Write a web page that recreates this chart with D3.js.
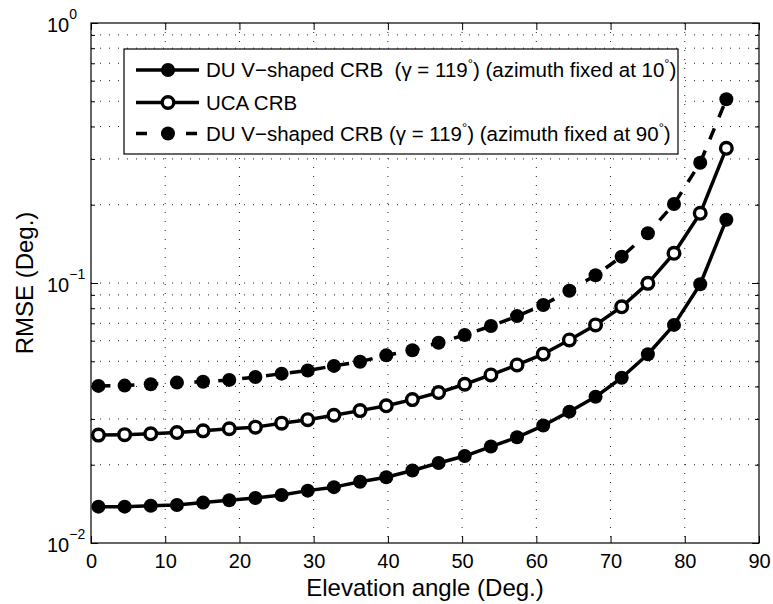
<!DOCTYPE html>
<html>
<head>
<meta charset="utf-8">
<script src="https://cdn.jsdelivr.net/npm/d3@7"></script>
<style>
  body { margin: 0; background: #fff; }
  svg { display: block; font-family: "Liberation Sans", Arial, sans-serif; }
</style>
</head>
<body>
<div id="chart"></div>
<script>
// ── Data ───────────────────────────────────────────────────────────────────
const elevation = [1.0, 4.53, 8.05, 11.58, 15.1, 18.63, 22.15, 25.68, 29.2, 32.73,
  36.25, 39.78, 43.3, 46.83, 50.35, 53.88, 57.4, 60.93, 64.45, 67.98,
  71.5, 75.03, 78.55, 82.08, 85.6];

const duV10 = [0.0138, 0.0138, 0.0139, 0.0140, 0.0143, 0.0146, 0.0149, 0.0153, 0.0159, 0.0164,
  0.0172, 0.0179, 0.0190, 0.0203, 0.0216, 0.0235, 0.0255, 0.0283, 0.0320, 0.0365,
  0.0432, 0.0532, 0.0690, 0.0989, 0.1752];

const ucaCrb = [0.0260, 0.0261, 0.0263, 0.0266, 0.0270, 0.0275, 0.0279, 0.0289, 0.0298, 0.0310,
  0.0323, 0.0337, 0.0356, 0.0379, 0.0408, 0.0443, 0.0484, 0.0533, 0.0604, 0.0690,
  0.0810, 0.0997, 0.1301, 0.1854, 0.3297];

const duV90 = [0.0402, 0.0403, 0.0408, 0.0414, 0.0417, 0.0424, 0.0435, 0.0448, 0.0461, 0.0480,
  0.0498, 0.0527, 0.0551, 0.0589, 0.0631, 0.0683, 0.0746, 0.0823, 0.0934, 0.1071,
  0.1263, 0.1553, 0.2012, 0.2902, 0.5087];

const xTicks    = [0, 10, 20, 30, 40, 50, 60, 70, 80, 90];
const yMajor    = [0.01, 0.1, 1];
const yExpLabel = ["\u22122", "\u22121", "0"];
const yMinor    = [0.02, 0.03, 0.04, 0.05, 0.06, 0.07, 0.08, 0.09,
                   0.2, 0.3, 0.4, 0.5, 0.6, 0.7, 0.8, 0.9];

const legendItems = [
  { pre: "DU V\u2212shaped CRB  (\u03b3 = 119", mid: ") (azimuth fixed at 10", marker: "filled", dash: false },
  { pre: "UCA CRB", mid: null, marker: "open", dash: false },
  { pre: "DU V\u2212shaped CRB (\u03b3 = 119", mid: ") (azimuth fixed at 90", marker: "filled", dash: true }
];

// ── Layout ─────────────────────────────────────────────────────────────────
const W = 773, H = 604;
const m = { left: 91, top: 23, right: 14, bottom: 61 };
const innerW = W - m.left - m.right;
const innerH = H - m.top - m.bottom;

const x = d3.scaleLinear().domain([0, 90]).range([0, innerW]);
const y = d3.scaleLog().domain([0.01, 1]).range([innerH, 0]);

const svg = d3.select("#chart").append("svg")
  .attr("width", W).attr("height", H);

const g = svg.append("g").attr("transform", `translate(${m.left},${m.top})`);

// ── Grid (dotted) ──────────────────────────────────────────────────────────
const gridStyle = sel => sel.attr("stroke", "#222").attr("stroke-width", 1)
  .attr("stroke-dasharray", "1,8");

g.append("g").selectAll("line")
  .data(xTicks.slice(1, -1)).join("line")
  .attr("x1", d => x(d)).attr("x2", d => x(d))
  .attr("y1", 0).attr("y2", innerH)
  .call(gridStyle);

g.append("g").selectAll("line")
  .data(yMinor.concat([0.1])).join("line")
  .attr("x1", 0).attr("x2", innerW)
  .attr("y1", d => y(d)).attr("y2", d => y(d))
  .call(gridStyle);

// ── Axes: ticks point inward, on all four sides ────────────────────────────
const tidy = ax => {
  ax.select(".domain").remove();
  ax.selectAll("line").attr("stroke", "#000");
};

g.append("g").attr("transform", `translate(0,${innerH})`)
  .call(d3.axisBottom(x).tickValues(xTicks).tickSize(-7).tickPadding(11).tickFormat(d3.format("d")))
  .call(tidy)
  .call(ax => ax.selectAll("text").attr("font-size", "20px").attr("fill", "#000")
    .attr("font-family", "Liberation Sans, Arial, sans-serif"));

g.append("g")
  .call(d3.axisTop(x).tickValues(xTicks).tickSize(-7).tickFormat(""))
  .call(tidy);

[[d3.axisLeft, 0], [d3.axisRight, innerW]].forEach(([axisFn, tx]) => {
  g.append("g").attr("transform", `translate(${tx},0)`)
    .call(axisFn(y).tickValues(yMajor).tickSize(-7).tickFormat(""))
    .call(tidy);
  g.append("g").attr("transform", `translate(${tx},0)`)
    .call(axisFn(y).tickValues(yMinor).tickSize(-4).tickFormat(""))
    .call(tidy);
});

// y tick labels: 10 with superscript exponent
const yl = g.append("g").selectAll("text")
  .data(yMajor).join("text")
  .attr("x", -44).attr("y", d => y(d) + 9)
  .attr("font-size", "20px").attr("fill", "#000");
yl.append("tspan").text("10");
yl.append("tspan").attr("dy", -13).attr("font-size", "14px")
  .text((d, i) => yExpLabel[i]);

// Box
g.append("rect")
  .attr("x", 0).attr("y", 0).attr("width", innerW).attr("height", innerH)
  .attr("fill", "none").attr("stroke", "#000").attr("stroke-width", 1.2);

// ── Series ─────────────────────────────────────────────────────────────────
const line = d3.line().x((d, i) => x(elevation[i])).y(d => y(d));

const series = [
  { data: duV10,  marker: "filled", dash: false },
  { data: ucaCrb, marker: "open",   dash: false },
  { data: duV90,  marker: "filled", dash: true }
];

series.forEach(s => {
  g.append("path")
    .datum(s.data)
    .attr("d", line)
    .attr("fill", "none").attr("stroke", "#000").attr("stroke-width", 3.5)
    .attr("stroke-linejoin", "round")
    .attr("stroke-dasharray", s.dash ? "12,12" : null);

  g.append("g").selectAll("circle")
    .data(s.data).join("circle")
    .attr("cx", (d, i) => x(elevation[i]))
    .attr("cy", d => y(d))
    .attr("r", s.marker === "filled" ? 7 : 5.8)
    .attr("fill", s.marker === "filled" ? "#000" : "#fff")
    .attr("stroke", "#000").attr("stroke-width", s.marker === "filled" ? 0 : 3.4);
});

// ── Axis labels ────────────────────────────────────────────────────────────
svg.append("text")
  .attr("x", m.left + innerW / 2).attr("y", 596)
  .attr("text-anchor", "middle").attr("font-size", "24px").attr("fill", "#000")
  .text("Elevation angle (Deg.)");

svg.append("text")
  .attr("transform", `translate(33,${m.top + innerH / 2}) rotate(-90)`)
  .attr("text-anchor", "middle").attr("font-size", "24px").attr("fill", "#000")
  .text("RMSE (Deg.)");

// ── Legend ─────────────────────────────────────────────────────────────────
const leg = svg.append("g");
leg.append("rect")
  .attr("x", 124).attr("y", 49).attr("width", 554).attr("height", 105)
  .attr("fill", "#fff").attr("stroke", "#000").attr("stroke-width", 1.2);

const rowY = [70, 102.5, 133.5];
legendItems.forEach((it, i) => {
  const cy = rowY[i];
  leg.append("line")
    .attr("x1", 136).attr("x2", 199).attr("y1", cy).attr("y2", cy)
    .attr("stroke", "#000").attr("stroke-width", 3.5)
    .attr("stroke-dasharray", it.dash ? "11,14" : null);
  leg.append("circle")
    .attr("cx", 168).attr("cy", cy)
    .attr("r", it.marker === "filled" ? 7 : 5.8)
    .attr("fill", it.marker === "filled" ? "#000" : "#fff")
    .attr("stroke", "#000").attr("stroke-width", it.marker === "filled" ? 0 : 3.4);

  const t = leg.append("text")
    .attr("x", 206).attr("y", cy + 7)
    .attr("font-size", "20.5px").attr("fill", "#000")
    .style("white-space", "pre");
  t.append("tspan").text(it.pre);
  if (it.mid) {
    t.append("tspan").attr("dy", -9).attr("font-size", "13px").text("\u00b0");
    t.append("tspan").attr("dy", 9).text(it.mid);
    t.append("tspan").attr("dy", -9).attr("font-size", "13px").text("\u00b0");
    t.append("tspan").attr("dy", 9).text(")");
  }
});
</script>
</body>
</html>
